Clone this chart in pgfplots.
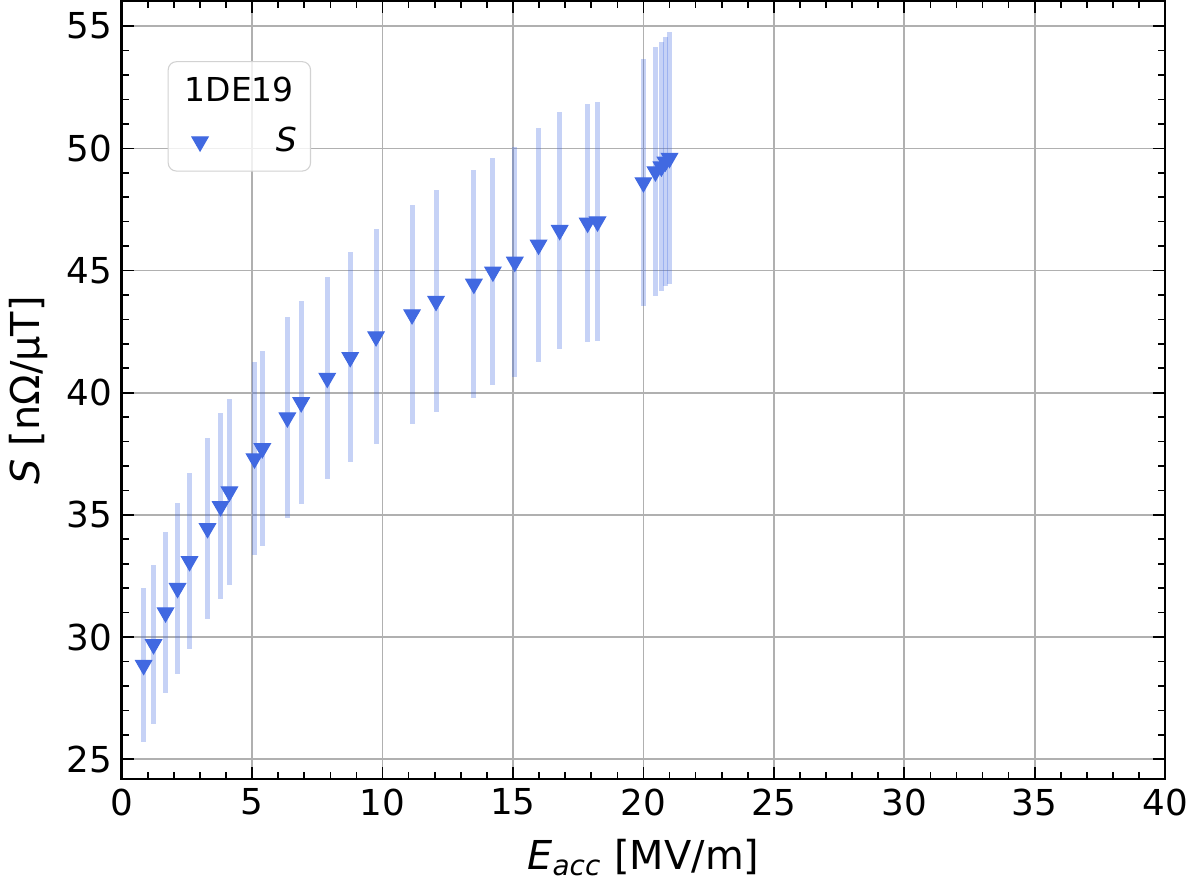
\documentclass[border=0pt]{standalone}
\usepackage{fontspec}
\setmainfont{DejaVu Sans}
\usepackage{pgfplots}
\pgfplotsset{compat=1.18}
\definecolor{royal}{RGB}{65,105,225}
\definecolor{gridc}{RGB}{176,176,176}
\pgfplotstableread{
x y e
0.84 28.85 3.15
1.22 29.70 3.25
1.68 31.00 3.30
2.14 32.00 3.50
2.60 33.10 3.60
3.29 34.45 3.70
3.79 35.35 3.80
4.13 35.95 3.80
5.09 37.30 3.95
5.39 37.72 4.00
6.35 38.98 4.10
6.88 39.60 4.15
7.88 40.60 4.15
8.76 41.45 4.30
9.75 42.30 4.40
11.13 43.20 4.50
12.05 43.75 4.55
13.50 44.45 4.65
14.23 44.95 4.65
15.07 45.35 4.70
15.98 46.05 4.80
16.79 46.65 4.85
17.86 46.95 4.88
18.24 47.00 4.90
20.00 48.60 5.05
20.46 49.05 5.10
20.69 49.25 5.10
20.84 49.45 5.10
21.00 49.60 5.15
}\datatable
\begin{document}
\begin{tikzpicture}
\begin{axis}[
  scale only axis, width=379.8pt, height=283.2pt,
  xmin=0, xmax=40, ymin=24.18, ymax=56.02,
  xtick={0,5,...,40}, ytick={25,30,...,55},
  minor x tick num=4, minor y tick num=4,
  tick align=inside, xtick pos=both, ytick pos=both,
  major tick length=4.4pt, minor tick length=2.6pt,
  every tick/.style={black, line width=0.6pt},
  axis line style={line width=0.9pt},
  grid=major, major grid style={gridc, line width=0.6pt},
  /pgf/number format/assume math mode=true,
  tick label style={font=\fontsize{13}{16}\selectfont},
  label style={font=\fontsize{14.5}{17}\selectfont},
  xlabel={\textit{E}\textsubscript{\textit{acc}} [MV/m]},
  xlabel style={yshift=-1.5pt},
  ylabel={\textit{S} [nΩ/μT]},
  legend style={at={(0.044,0.923)}, anchor=north west,
    font=\fontsize{12}{15}\selectfont, rounded corners=3pt,
    draw=gray!35, fill=white, fill opacity=0.8, text opacity=1,
    inner xsep=3pt, inner ysep=3.5pt, row sep=4pt},
  legend image code/.code={%
    \path[draw=none, fill=none] (-8.6pt,-3pt) rectangle (25.6pt,3pt);
    \draw[#1, fill opacity=1, draw opacity=1] plot coordinates {(0pt,0pt)};},
]
\addlegendimage{empty legend}
\addlegendentry{\hspace*{-34.3pt}1DE19}
\addplot[only marks, color=royal, mark=triangle*, mark size=3.4pt,
  mark options={rotate=180, fill=royal, draw=royal},
  error bars/.cd, y dir=both, y explicit, error mark=none,
  error bar style={line width=1.8pt, color=royal, opacity=0.3}]
  table[x=x, y=y, y error=e] {\datatable};
\addlegendentry{\textit{S}}
\end{axis}
\end{tikzpicture}
\end{document}
